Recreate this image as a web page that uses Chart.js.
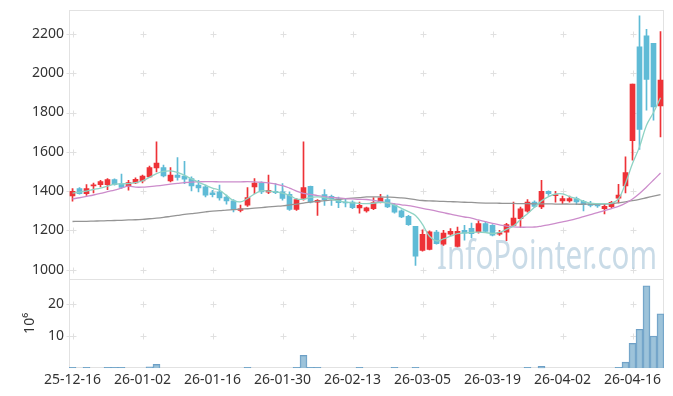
<!DOCTYPE html>
<html>
<head>
<meta charset="utf-8">
<script src="https://cdn.jsdelivr.net/npm/chart.js@4.4.1/dist/chart.umd.min.js"></script>
<style>
  html, body { margin: 0; padding: 0; background: #fff; }
  canvas { display: block; }
</style>
</head>
<body>
<canvas id="chart" width="673" height="396"></canvas>
<script>
// trading days shown on the chart
const dates = [
  '25-12-16','25-12-17','25-12-18','25-12-19','25-12-22','25-12-23','25-12-24','25-12-26','25-12-29','25-12-30',
  '26-01-02','26-01-05','26-01-06','26-01-07','26-01-08','26-01-09','26-01-12','26-01-13','26-01-14','26-01-15',
  '26-01-16','26-01-19','26-01-20','26-01-21','26-01-22','26-01-23','26-01-26','26-01-27','26-01-28','26-01-29',
  '26-01-30','26-02-02','26-02-03','26-02-04','26-02-05','26-02-06','26-02-09','26-02-10','26-02-11','26-02-12',
  '26-02-13','26-02-19','26-02-20','26-02-23','26-02-24','26-02-25','26-02-26','26-02-27','26-03-03','26-03-04',
  '26-03-05','26-03-06','26-03-09','26-03-10','26-03-11','26-03-12','26-03-13','26-03-16','26-03-17','26-03-18',
  '26-03-19','26-03-20','26-03-23','26-03-24','26-03-25','26-03-26','26-03-27','26-03-30','26-03-31','26-04-01',
  '26-04-02','26-04-03','26-04-06','26-04-07','26-04-08','26-04-09','26-04-10','26-04-13','26-04-14','26-04-15',
  '26-04-16','26-04-17','26-04-20','26-04-21','26-04-22'
];

const opens = [
  1375,1413,1387,1426,1433,1433,1458,1438,1425,1441,
  1452,1472,1518,1520,1452,1481,1476,1464,1430,1421,
  1391,1396,1370,1350,1302,1328,1421,1441,1394,1399,
  1396,1384,1307,1362,1424,1344,1382,1373,1361,1344,
  1344,1314,1299,1310,1344,1356,1327,1299,1271,1220,
  1098,1103,1191,1129,1180,1118,1200,1210,1192,1234,
  1226,1180,1191,1225,1259,1297,1344,1319,1399,1377,
  1350,1350,1362,1348,1336,1331,1310,1320,1364,1426,
  1656,2135,2190,2152,1834
];
const highs = [
  1413,1418,1433,1441,1455,1464,1462,1486,1455,1467,
  1481,1527,1651,1532,1520,1571,1552,1472,1455,1430,
  1404,1430,1379,1356,1328,1418,1464,1447,1481,1438,
  1438,1396,1362,1651,1426,1357,1407,1379,1370,1361,
  1350,1344,1319,1367,1384,1379,1336,1305,1276,1220,
  1203,1197,1200,1200,1209,1217,1226,1237,1248,1243,
  1229,1200,1236,1344,1319,1356,1350,1455,1401,1399,
  1374,1374,1370,1353,1348,1338,1331,1348,1434,1574,
  1945,2292,2224,2152,2212
];
const lows = [
  1348,1384,1378,1390,1421,1407,1430,1413,1404,1438,
  1441,1469,1498,1472,1447,1455,1438,1401,1396,1370,
  1370,1353,1333,1294,1294,1322,1387,1387,1387,1387,
  1353,1302,1302,1353,1340,1276,1327,1327,1316,1319,
  1310,1288,1293,1305,1339,1316,1288,1265,1225,1021,
  1094,1100,1129,1123,1174,1115,1150,1161,1186,1190,
  1171,1174,1148,1222,1215,1293,1316,1310,1378,1344,
  1336,1344,1331,1299,1319,1317,1284,1316,1340,1390,
  1557,1612,1812,1761,1676
];
const closes = [
  1399,1387,1413,1432,1448,1458,1433,1418,1443,1460,
  1476,1520,1542,1477,1481,1470,1460,1426,1416,1379,
  1382,1365,1350,1305,1309,1367,1441,1396,1404,1392,
  1362,1307,1356,1418,1344,1353,1356,1361,1341,1339,
  1316,1327,1314,1341,1365,1319,1293,1268,1229,1069,
  1180,1193,1132,1186,1195,1195,1186,1183,1234,1195,
  1175,1188,1229,1263,1310,1344,1322,1399,1387,1382,
  1362,1362,1345,1331,1327,1324,1322,1342,1379,1494,
  1945,1714,1969,1829,1965
];

// moving averages as drawn
const ma5 = [
  1390,1395,1400,1408,1415,1425,1435,1437,1438,1443,
  1452,1470,1489,1500,1503,1495,1480,1462,1445,1430,
  1415,1404,1378,1352,1345,1362,1385,1401,1400,1396,
  1390,1378,1360,1358,1368,1370,1367,1358,1350,1344,
  1340,1337,1336,1338,1343,1340,1328,1312,1295,1276,
  1230,1170,1146,1156,1170,1183,1187,1190,1191,1189,
  1184,1190,1205,1222,1255,1285,1318,1350,1372,1385,
  1386,1372,1362,1348,1338,1336,1336,1339,1360,1440,
  1540,1625,1735,1800,1875
];
const ma20 = [
  1360,1366,1373,1380,1388,1397,1405,1415,1425,1420,
  1420,1423,1426,1430,1435,1439,1443,1446,1447,1448,
  1448,1447,1447,1447,1447,1448,1447,1445,1442,1436,
  1428,1415,1400,1388,1383,1377,1372,1368,1365,1362,
  1360,1358,1357,1352,1346,1340,1335,1330,1326,1319,
  1312,1305,1298,1290,1282,1275,1268,1262,1253,1244,
  1235,1228,1222,1218,1216,1216,1217,1222,1228,1235,
  1243,1251,1260,1270,1280,1290,1301,1311,1322,1338,
  1360,1388,1421,1456,1492
];
const ma60 = [
  1245,1246,1246,1247,1248,1249,1250,1251,1253,1254,
  1256,1259,1262,1266,1271,1276,1281,1285,1289,1294,
  1298,1300,1303,1305,1308,1310,1313,1316,1319,1322,
  1325,1329,1334,1339,1344,1348,1351,1355,1358,1361,
  1364,1367,1370,1370,1370,1369,1368,1365,1361,1356,
  1352,1350,1349,1347,1346,1345,1343,1342,1340,1339,
  1339,1338,1337,1337,1336,1336,1335,1335,1335,1334,
  1334,1334,1333,1333,1333,1333,1334,1336,1340,1345,
  1351,1358,1366,1374,1382
];

// volume, millions of shares
const volume = [
  0.3,0,0.3,0,0,0.3,0.3,0.3,0,0,
  0,0.4,1.2,0,0,0,0,0,0,0,
  0,0,0,0,0,0.3,0,0,0,0,
  0,0,0.3,4.0,0.3,0.3,0,0,0,0,
  0,0.3,0,0,0,0,0.3,0,0,0.3,
  0,0,0,0,0,0,0,0,0,0,
  0,0,0,0,0,0.3,0,0.6,0,0,
  0,0,0,0,0,0,0,0,0.3,1.9,
  7.7,12.1,25.6,10,16.9
];

const priceTicks = [1000, 1200, 1400, 1600, 1800, 2000, 2200];
const volTicks = [10, 20];

const UP = '#ee3237';
const DOWN = '#5fbbd6';
const candleColors = opens.map((o, i) => closes[i] >= o ? UP : DOWN);

const frames = {
  id: 'frames',
  beforeDatasetsDraw(chart) {
    const { ctx, scales } = chart;
    const x = scales.x, yp = scales.y, yv = scales.yv;
    const L = Math.round(x.left) + 0.5, R = Math.round(x.right) - 0.5;
    ctx.save();
    ctx.lineWidth = 1;
    ctx.strokeStyle = '#e2e2e2';
    ctx.strokeRect(L, Math.round(yp.top) + 0.5, R - L, Math.round(yp.bottom) - Math.round(yp.top));
    ctx.strokeRect(L, Math.round(yv.top) + 0.5, R - L, Math.round(yv.bottom) - Math.round(yv.top) - 1);

    // small crosses where the grid lines would meet
    ctx.strokeStyle = '#e0e0e0';
    const xs = [];
    for (let i = 0; i < dates.length; i += 10) xs.push(Math.round(x.getPixelForValue(i)) + 0.5);
    const ys = priceTicks.map(v => Math.round(yp.getPixelForValue(v)) + 0.5)
      .concat(volTicks.map(v => Math.round(yv.getPixelForValue(v)) + 0.5));
    ctx.beginPath();
    xs.concat([L]).forEach(px => {
      ys.forEach(py => {
        ctx.moveTo(px - 3, py); ctx.lineTo(px + 3, py);
        ctx.moveTo(px, py - 3); ctx.lineTo(px, py + 3);
      });
    });
    ctx.stroke();

    // watermark
    ctx.fillStyle = 'rgba(165,195,215,0.6)';
    ctx.font = '40px "Noto Sans"';
    ctx.textBaseline = 'alphabetic';
    const txt = 'InfoPointer.com';
    const w = ctx.measureText(txt).width;
    ctx.translate(437, 269);
    ctx.scale(220 / w, 1);
    ctx.fillText(txt, 0, 0);
    ctx.restore();
  }
};

const tickFont = { family: 'Noto Sans', size: 14 };

const ctx = document.getElementById('chart').getContext('2d');
new Chart(ctx, {
  data: {
    labels: dates,
    datasets: [
      { type: 'line', label: 'MA5', data: ma5, yAxisID: 'y', borderColor: '#8fd3c4', borderWidth: 1.3, pointRadius: 0, tension: 0.4, order: 1 },
      { type: 'line', label: 'MA20', data: ma20, yAxisID: 'y', borderColor: '#cc8ccb', borderWidth: 1.3, pointRadius: 0, tension: 0.4, order: 1 },
      { type: 'line', label: 'MA60', data: ma60, yAxisID: 'y', borderColor: '#959595', borderWidth: 1.3, pointRadius: 0, tension: 0.4, order: 1 },
      { type: 'bar', label: 'body', data: opens.map((o, i) => [o, closes[i]]), yAxisID: 'y', backgroundColor: candleColors, barThickness: 5, grouped: false, order: 2 },
      { type: 'bar', label: 'wick', data: lows.map((l, i) => [l, highs[i]]), yAxisID: 'y', backgroundColor: candleColors, barThickness: 1, grouped: false, order: 3 },
      { type: 'bar', label: 'volume', data: volume, yAxisID: 'yv', backgroundColor: 'rgba(140,184,212,0.85)', borderColor: '#6d9fc6', borderWidth: 1, barPercentage: 1, categoryPercentage: 1, grouped: false, order: 4 }
    ]
  },
  options: {
    responsive: false,
    animation: false,
    devicePixelRatio: 1,
    layout: { padding: { left: 0, right: 9, top: 10, bottom: 5 } },
    plugins: { legend: { display: false }, tooltip: { enabled: false } },
    scales: {
      x: {
        type: 'category',
        offset: true,
        grid: { display: false, drawTicks: false },
        border: { display: false },
        ticks: {
          autoSkip: false, maxRotation: 0, padding: 3,
          color: '#333', font: tickFont,
          callback: (v, i) => (i % 10 === 0 ? dates[i] : null)
        }
      },
      yv: {
        type: 'linear', position: 'left', stack: 'panels', stackWeight: 1,
        min: 0, max: 27.8,
        afterBuildTicks: s => { s.ticks = volTicks.map(v => ({ value: v })); },
        afterFit: s => { s.width = 69; s.paddingTop = 0; s.paddingBottom = 0; },
        grid: { display: false, drawTicks: false },
        border: { display: false },
        title: { display: true, text: '10⁶', color: '#333', font: tickFont, padding: { top: 22, bottom: 0 } },
        ticks: { padding: 5, color: '#333', font: tickFont, callback: v => String(v) }
      },
      y: {
        type: 'linear', position: 'left', stack: 'panels', stackWeight: 3,
        min: 954, max: 2322,
        afterBuildTicks: s => { s.ticks = priceTicks.map(v => ({ value: v })); },
        afterFit: s => { s.width = 69; s.paddingTop = 0; s.paddingBottom = 0; },
        grid: { display: false, drawTicks: false },
        border: { display: false },
        ticks: { padding: 5, color: '#333', font: tickFont, callback: v => String(v) }
      }
    }
  },
  plugins: [frames]
});
</script>
</body>
</html>
